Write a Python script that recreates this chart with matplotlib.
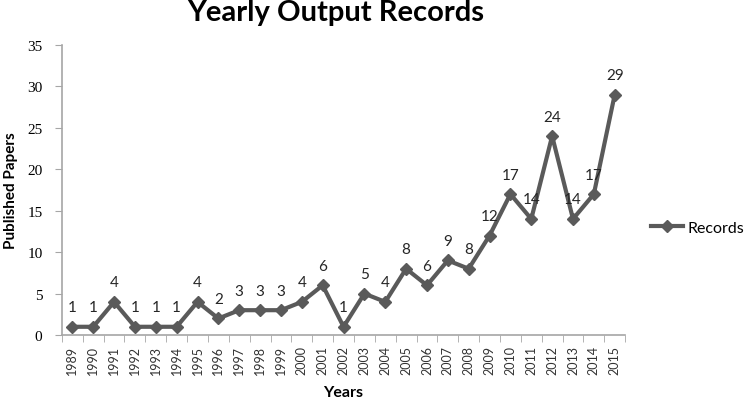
import matplotlib
matplotlib.use('Agg')
import matplotlib.pyplot as plt
import numpy as np

years = [str(y) for y in range(1989, 2016)]
records = [1, 1, 4, 1, 1, 1, 4, 2, 3, 3, 3, 4, 6, 1, 5, 4, 8, 6, 9, 8,
           12, 17, 14, 24, 14, 17, 29]

line_col = '#5a5a5a'
axis_col = '#a6a6a6'
sans = 'Lato'

fig = plt.figure(figsize=(7.46, 4.02), dpi=100)
ax = fig.add_axes([0.083, 0.164, 0.755, 0.722])

x = np.arange(len(years))
ax.plot(x, records, color=line_col, lw=3, marker='D', ms=6.5,
        markerfacecolor=line_col, markeredgecolor=line_col, label='Records')

for xi, v in zip(x, records):
    ax.annotate(str(v), (xi, v), xytext=(0, 9), textcoords='offset points',
                ha='center', va='bottom', fontsize=11, family=sans,
                color='#262626')

ax.set_xlim(-0.5, len(years) - 0.5)
ax.set_ylim(0, 35)
ax.set_yticks(range(0, 36, 5))
ax.set_yticklabels([str(v) for v in range(0, 36, 5)], family='Liberation Serif',
                   fontsize=11)
ax.set_xticks(x)
ax.set_xticklabels(years, rotation=90, family=sans, fontsize=9,
                   color='#333333')
ax.set_xticks(np.arange(-0.5, len(years)), minor=True)
ax.tick_params(axis='x', which='major', length=0, pad=7)
ax.tick_params(axis='x', which='minor', length=5, color=axis_col, direction='out')
ax.tick_params(axis='y', length=5, color=axis_col, direction='out', pad=9)

for s in ['top', 'right']:
    ax.spines[s].set_visible(False)
for s in ['left', 'bottom']:
    ax.spines[s].set_color(axis_col)
    ax.spines[s].set_linewidth(1.2)

ax.set_xlabel('Years', family=sans, fontweight='bold', fontsize=11.5)
ax.xaxis.set_label_coords(0.5, -0.172)
ax.set_ylabel('Published Papers', family=sans, fontweight='bold', fontsize=11)
ax.yaxis.set_label_coords(-0.078, 0.5)
fig.text(0.45, 0.968, 'Yearly Output Records', ha='center', va='center',
         family=sans, fontweight='bold', fontsize=21)

leg = ax.legend(loc='center left', bbox_to_anchor=(1.02, 0.37), frameon=False,
                prop={'family': sans, 'size': 11.5}, handlelength=2.0,
                handletextpad=0.3)

fig.savefig('out.png', dpi=100)
